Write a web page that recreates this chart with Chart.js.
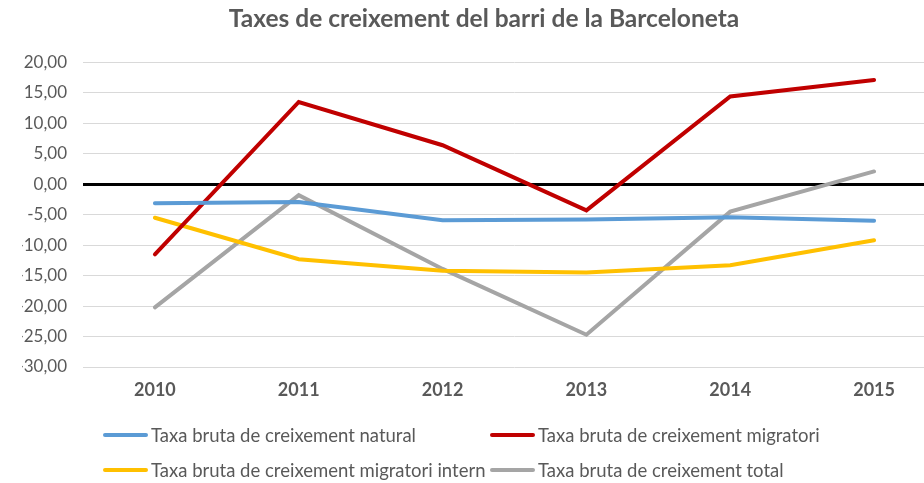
<!DOCTYPE html>
<html>
<head>
<meta charset="utf-8">
<script src="https://cdn.jsdelivr.net/npm/chart.js@4/dist/chart.umd.min.js"></script>
<style>
  html, body { margin: 0; padding: 0; background: #fff; overflow: hidden; }
  #wrap { position: absolute; left: 0; top: 0; width: 946px; height: 483px; }
  #llegenda {
    position: absolute; left: 103px; top: 424px;
    display: grid; grid-template-columns: 387px auto; row-gap: 13px;
    font-family: Lato, 'Open Sans', sans-serif; font-size: 18.5px; color: #595959;
  }
  #llegenda .item { display: flex; align-items: center; height: 22px; white-space: nowrap; }
  #llegenda .marca { width: 45px; height: 4px; border-radius: 2px; margin-right: 3px; }
</style>
</head>
<body>
<div id="wrap"><canvas id="chart"></canvas></div>
<div id="llegenda"></div>
<script>
/* ===== DADES ===== */
const anys = ['2010', '2011', '2012', '2013', '2014', '2015'];
const natural   = [-3.1, -2.9, -5.9, -5.8, -5.4, -6.0];
const migratori = [-11.5, 13.5, 6.4, -4.3, 14.4, 17.1];
const intern    = [-5.5, -12.3, -14.2, -14.5, -13.3, -9.2];
const total     = [-20.2, -1.8, -13.9, -24.7, -4.5, 2.1];
const yTicks    = [20, 15, 10, 5, 0, -5, -10, -15, -20, -25, -30];

const FONT = "Lato, 'Open Sans', sans-serif";
const GRIS = '#595959';

function serie(label, data, color){
  return { label, data, borderColor: color, backgroundColor: color,
           borderWidth: 4, pointRadius: 0, tension: 0, borderCapStyle: 'round' };
}

const chart = new Chart(document.getElementById('chart'), {
  type: 'line',
  data: {
    labels: anys,
    datasets: [
      serie('Taxa bruta de creixement natural', natural, '#5B9BD5'),
      serie('Taxa bruta de creixement migratori', migratori, '#C00000'),
      serie('Taxa bruta de creixement migratori intern', intern, '#FFC000'),
      serie('Taxa bruta de creixement total', total, '#A5A5A5')
    ]
  },
  options: {
    responsive: true, maintainAspectRatio: false, animation: false,
    layout: { padding: { left: 22, right: 0, top: 4, bottom: 74 } },
    plugins: {
      title: {
        display: true, text: 'Taxes de creixement del barri de la Barceloneta',
        color: GRIS, font: { family: FONT, size: 24.5, weight: 'bold' },
        padding: { top: 0, bottom: 29 }
      },
      legend: { display: false },
      tooltip: { enabled: false }
    },
    scales: {
      x: {
        offset: true,
        afterFit: s => { s.height = 42; },
        grid: { display: false, drawTicks: false, tickLength: 0 }, border: { display: false },
        ticks: { color: GRIS, font: { family: FONT, size: 18, weight: 'bold' }, padding: 12 }
      },
      y: {
        min: -30, max: 20,
        afterFit: s => { s.width = 61; },
        afterBuildTicks: s => { s.ticks = yTicks.map(v => ({ value: v })); },
        border: { display: false },
        grid: {
          drawTicks: false,
          color: c => c.tick && c.tick.value === 0 ? '#000000' : '#D9D9D9',
          lineWidth: c => c.tick && c.tick.value === 0 ? 3 : 1
        },
        ticks: {
          color: GRIS, font: { family: FONT, size: 17 }, padding: 16,
          callback: v => v.toFixed(2).replace('.', ',')
        }
      }
    }
  }
});

/* ===== LLEGENDA (HTML, a partir dels datasets) ===== */
const llegenda = document.getElementById('llegenda');
chart.data.datasets.forEach(ds => {
  const item = document.createElement('div');
  item.className = 'item';
  const marca = document.createElement('span');
  marca.className = 'marca';
  marca.style.background = ds.borderColor;
  const txt = document.createElement('span');
  txt.textContent = ds.label;
  item.append(marca, txt);
  llegenda.appendChild(item);
});
</script>
</body>
</html>
